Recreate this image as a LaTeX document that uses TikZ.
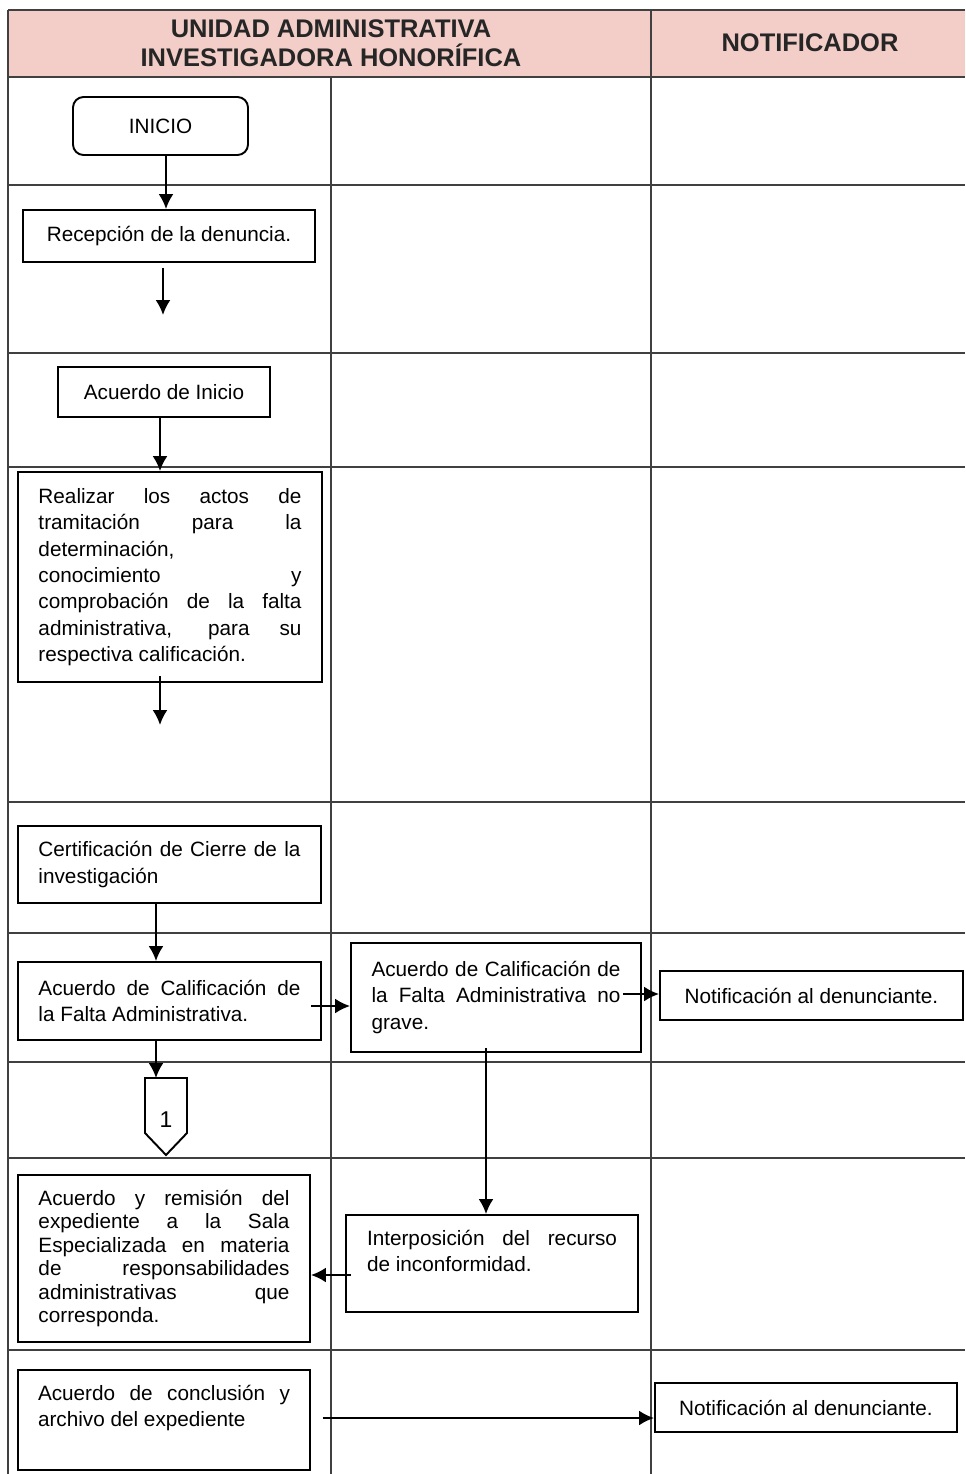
\documentclass[tikz,border=0pt]{standalone}
\usepackage{fontspec}
\setmainfont{Liberation Sans}
\usetikzlibrary{arrows.meta}
\newdimen\px \px=0.02cm
\definecolor{hdr}{RGB}{243,206,200}
\newcommand{\jl}[2]{\makebox[#1\px][s]{#2}}
\newcommand{\tb}[3]{\parbox[c][#2\px][t]{#1\px}{#3}}
\newcommand{\cb}[2]{\parbox{#1\px}{#2}}
\begin{document}
\begin{tikzpicture}[x=0.02cm,y=-0.02cm,
  gridline/.style={line width=0.9pt, black!75},
  box/.style={draw, line width=1.1pt, rectangle, fill=white, inner sep=0pt,
    font=\fontsize{11.8}{15}\selectfont},
  arr/.style={-{Latex[length=8.5pt,width=8.5pt]}, line width=1.2pt},
  hdrtext/.style={font=\bfseries\fontsize{14.5}{16.5}\selectfont, text=black!85, align=center}]
\useasboundingbox (0,0) rectangle (965,1474);
% header
\fill[hdr] (8,10) rectangle (965,77);
\draw[gridline, line width=1.3pt] (8,10) -- (965,10);
\draw[gridline, line width=1.3pt] (8,77) -- (965,77);
\node[hdrtext] (h1) at (331,43) {UNIDAD ADMINISTRATIVA\\INVESTIGADORA HONORÍFICA};
\node[hdrtext] (h2) at (810,43) {NOTIFICADOR};
% grid
\draw[gridline] (8,10) -- (8,1474);
\draw[gridline] (651,10) -- (651,1474);
\draw[gridline] (331,77) -- (331,1474);
\foreach \yy in {185,353,467,802,933,1062,1158,1350}
  \draw[gridline] (8,\yy) -- (965,\yy);
% nodes
\node[box, rounded corners=6pt, minimum width=175\px, minimum height=58\px] (inicio) at (160.5,126) {INICIO};
\node[box, minimum width=292\px, minimum height=52\px] (recep) at (169,236) {Recepción de la denuncia.};
\coordinate (e2) at (163,315);
\node[box, minimum width=212\px, minimum height=50\px] (acini) at (164,392) {Acuerdo de Inicio};
\node[box, minimum width=304\px, minimum height=210\px] (realizar) at (170,577) {\cb{263}{%
  \jl{263}{Realizar los actos de}\\
  \jl{263}{tramitación para la}\\
  determinación,\\
  \jl{263}{conocimiento y}\\
  \jl{263}{comprobación de la falta}\\
  \jl{263}{administrativa, para su}\\
  respectiva calificación.}};
\coordinate (e4) at (160,725);
\node[box, minimum width=303\px, minimum height=77\px] (cert) at (169.5,864.5) {\cb{262}{%
  \jl{262}{Certificación de Cierre de la}\\
  investigación}};
\node[box, minimum width=303\px, minimum height=78\px] (calif) at (169.5,1001) {\cb{262}{%
  \jl{262}{Acuerdo de Calificación de}\\
  la Falta Administrativa.}};
\node[box, minimum width=290\px, minimum height=109\px] (nograve) at (496,997.5) {\cb{249}{%
  \jl{249}{Acuerdo de Calificación de}\\
  \jl{249}{la Falta Administrativa no}\\
  grave.}};
\node[box, minimum width=303\px, minimum height=49\px] (notif1) at (811.5,995.5) {Notificación al denunciante.};
% off-page connector
\draw[line width=1.1pt, fill=white] (145,1078) -- (187,1078) -- (187,1133) -- (166,1155) -- (145,1133) -- cycle;
\node[font=\fontsize{13}{15}\selectfont] (c1) at (166,1120) {1};
\coordinate (c1top) at (156,1078);
\node[box, minimum width=292\px, minimum height=167\px] (remis) at (164,1258.5) {\cb{251}{\fontsize{11.8}{13.4}\selectfont
  \jl{251}{Acuerdo y remisión del}\\
  \jl{251}{expediente a la Sala}\\
  \jl{251}{Especializada en materia}\\
  \jl{251}{de responsabilidades}\\
  \jl{251}{administrativas que}\\
  corresponda.}};
\node[box, minimum width=292\px, minimum height=97\px] (interp) at (492,1263.5) {\tb{250}{67}{%
  \jl{250}{Interposición del recurso}\\
  de inconformidad.}};
\node[box, minimum width=292\px, minimum height=100\px] (concl) at (164,1420) {\tb{252}{70}{%
  \jl{252}{Acuerdo de conclusión y}\\
  archivo del expediente}};
\node[box, minimum width=302\px, minimum height=49\px] (notif2) at (806,1407.5) {Notificación al denunciante.};
% connectors
\draw[arr] ([xshift=5.5\px]inicio.south) -- ([xshift=5.5\px]inicio.south |- recep.north);
\draw[arr] ([xshift=-6\px,yshift=-5\px]recep.south) -- (e2);
\draw[arr] ([xshift=-4\px]acini.south) -- ([xshift=-4\px]acini.south |- realizar.north);
\draw[arr] ([xshift=-10\px,yshift=7\px]realizar.south) -- (e4);
\draw[arr] ([xshift=-13.5\px]cert.south) -- ([xshift=-13.5\px]calif.north);
\coordinate (s6) at ([xshift=-11\px,yshift=-5\px]calif.east);
\draw[arr] (s6) -- (s6 -| nograve.west);
\coordinate (s7) at ([xshift=-19\px,yshift=3.5\px]nograve.east);
\draw[arr] (s7) -- (s7 -| notif1.west);
\coordinate (s8) at ([xshift=-10\px,yshift=5\px]nograve.south);
\draw[arr] (s8) -- (s8 |- interp.north);
\draw[arr] ([xshift=-13.5\px]calif.south) -- (c1top);
\coordinate (s10) at ([xshift=6\px,yshift=-11.5\px]interp.west);
\draw[arr] (s10) -- (s10 -| remis.east);
\coordinate (s11) at ([xshift=12\px,yshift=2\px]concl.east);
\draw[arr] (s11) -- (s11 -| notif2.west);
\end{tikzpicture}
\end{document}
